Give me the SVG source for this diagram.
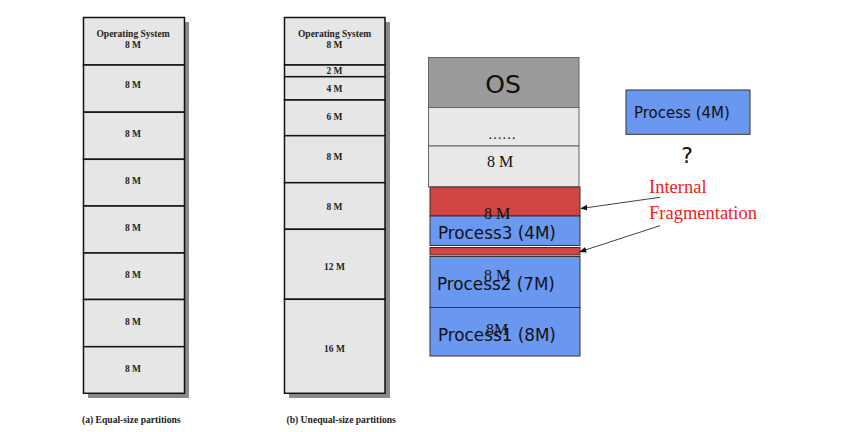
<svg xmlns="http://www.w3.org/2000/svg" width="847" height="432" viewBox="0 0 847 432">
<defs>
<style>
.part{fill:#e6e6e6;stroke:#111;stroke-width:1.5}
.shadow{fill:#8a8a8a}
.lbl{font-family:"Liberation Serif",serif;font-weight:bold;font-size:9.5px;fill:#222;text-anchor:middle}
.cap{font-family:"Liberation Serif",serif;font-weight:bold;font-size:9.6px;fill:#222}
.mem{fill:#e8e8e8;stroke:#666;stroke-width:1}
.red{fill:#d24545;stroke:#333;stroke-width:1}
.blue{fill:#6a98f0;stroke:#333;stroke-width:1}
.ptxt{font-family:"DejaVu Sans",sans-serif;font-size:16.8px;fill:#111}
.serif{font-family:"Liberation Serif",serif;font-size:16px;fill:#111}
.frag{font-family:"Liberation Serif",serif;font-size:18.5px;fill:#f01c1c}
.conn{stroke:#111;stroke-width:0.8;fill:none;marker-end:url(#ah)}
</style>
<marker id="ah" viewBox="0 0 10 10" refX="9" refY="5" markerWidth="7" markerHeight="7" orient="auto" markerUnits="userSpaceOnUse">
<path d="M0,1 L10,5 L0,9 z" fill="#111"/>
</marker>
</defs>
<rect width="847" height="432" fill="#fff"/>

<g id="equal-partitions">
<rect class="shadow" x="88" y="22" width="101" height="376"/>
<rect class="part" x="83.5" y="17.5" width="101" height="47.5"/>
<rect class="part" x="83.5" y="65" width="101" height="47.2"/>
<rect class="part" x="83.5" y="112.2" width="101" height="47.1"/>
<rect class="part" x="83.5" y="159.3" width="101" height="46.7"/>
<rect class="part" x="83.5" y="206" width="101" height="47"/>
<rect class="part" x="83.5" y="253" width="101" height="46.5"/>
<rect class="part" x="83.5" y="299.5" width="101" height="47.2"/>
<rect class="part" x="83.5" y="346.7" width="101" height="46.6"/>
<text class="lbl" x="133" y="37">Operating System</text>
<text class="lbl" x="133" y="47.5">8 M</text>
<text class="lbl" x="133" y="88">8 M</text>
<text class="lbl" x="133" y="137">8 M</text>
<text class="lbl" x="133" y="184">8 M</text>
<text class="lbl" x="133" y="231">8 M</text>
<text class="lbl" x="133" y="278">8 M</text>
<text class="lbl" x="133" y="324.5">8 M</text>
<text class="lbl" x="133" y="371.5">8 M</text>
<text class="cap" x="82" y="423">(a) Equal-size partitions</text>
</g>

<g id="unequal-partitions">
<rect class="shadow" x="289" y="22" width="101" height="376"/>
<rect class="part" x="284.5" y="17.5" width="100.5" height="47.5"/>
<rect class="part" x="284.5" y="65" width="100.5" height="11.7"/>
<rect class="part" x="284.5" y="76.7" width="100.5" height="23.3"/>
<rect class="part" x="284.5" y="100" width="100.5" height="35.7"/>
<rect class="part" x="284.5" y="135.7" width="100.5" height="47"/>
<rect class="part" x="284.5" y="182.7" width="100.5" height="46.6"/>
<rect class="part" x="284.5" y="229.3" width="100.5" height="70"/>
<rect class="part" x="284.5" y="299.3" width="100.5" height="94"/>
<text class="lbl" x="334.5" y="37">Operating System</text>
<text class="lbl" x="334.5" y="47.5">8 M</text>
<text class="lbl" x="334.5" y="74">2 M</text>
<text class="lbl" x="334.5" y="92">4 M</text>
<text class="lbl" x="334.5" y="120">6 M</text>
<text class="lbl" x="334.5" y="160">8 M</text>
<text class="lbl" x="334.5" y="210">8 M</text>
<text class="lbl" x="334.5" y="270">12 M</text>
<text class="lbl" x="334.5" y="351.5">16 M</text>
<text class="cap" x="286.5" y="423">(b) Unequal-size partitions</text>
</g>

<g id="memory">
<rect x="428.5" y="57.5" width="150.5" height="50" fill="#9a9a9a" stroke="#666" stroke-width="1"/>
<text x="503" y="93" font-family="DejaVu Sans,sans-serif" font-size="25" fill="#111" text-anchor="middle">OS</text>
<rect class="mem" x="428.5" y="107.5" width="150.5" height="38.5"/>
<text class="serif" x="502" y="139" text-anchor="middle" style="font-size:14px">……</text>
<rect class="mem" x="428.5" y="146" width="150.5" height="41"/>
<text class="serif" x="500" y="167" text-anchor="middle">8 M</text>
</g>

<g id="fragment-1">
<rect class="red" x="430" y="187" width="150" height="29"/>
</g>
<g id="process3">
<rect class="blue" x="430" y="216" width="150" height="29.5"/>
<text class="serif" x="497" y="219" text-anchor="middle">8 M</text>
<text class="ptxt" x="438" y="239">Process3 (4M)</text>
</g>
<g id="fragment-2">
<rect class="red" x="430" y="247.5" width="150" height="7.5"/>
</g>
<g id="process2">
<rect class="blue" x="430" y="256.5" width="150" height="51"/>
<text class="serif" x="497" y="281" text-anchor="middle">8 M</text>
<text class="ptxt" x="437" y="290">Process2 (7M)</text>
</g>
<g id="process1">
<rect class="blue" x="430" y="307.5" width="150" height="48.5"/>
<text class="serif" x="497" y="335" text-anchor="middle">8M</text>
<text class="ptxt" x="438" y="340.5">Process1 (8M)</text>
</g>

<g id="process-4m">
<rect class="blue" x="626" y="90" width="124" height="44.3"/>
<text class="ptxt" x="634" y="118" style="font-size:15px">Process (4M)</text>
</g>
<text x="687" y="163" font-family="DejaVu Sans,sans-serif" font-size="22" fill="#111" text-anchor="middle">?</text>

<g id="internal-fragmentation">
<text class="frag" x="649" y="193">Internal</text>
<text class="frag" x="649" y="219">Fragmentation</text>
</g>

<g id="connectors">
<line class="conn" x1="660" y1="197.3" x2="581" y2="208.5"/>
<line class="conn" x1="660" y1="225.7" x2="580" y2="251.7"/>
</g>
</svg>
